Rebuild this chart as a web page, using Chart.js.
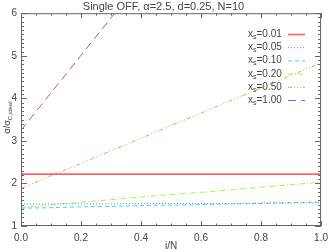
<!DOCTYPE html>
<html>
<head>
<meta charset="utf-8">
<script src="https://cdn.jsdelivr.net/npm/chart.js"></script>
<style>
  html, body { margin: 0; padding: 0; background: #fff; }
  #wrap { width: 334px; height: 252px; }
</style>
</head>
<body>
<div id="wrap"><canvas id="chart" width="334" height="252"></canvas></div>
<script>
// i/N positions, N=10
const iOverN = [0.0, 0.1, 0.2, 0.3, 0.4, 0.5, 0.6, 0.7, 0.8, 0.9, 1.0];

// sigma / sigma_C,ideal for each x_s
const xs001 = [2.22, 2.22, 2.22, 2.22, 2.22, 2.22, 2.22, 2.22, 2.22, 2.22, 2.22];
const xs005 = [1.52, 1.52, 1.52, 1.52, 1.53, 1.53, 1.53, 1.53, 1.54, 1.54, 1.54];
const xs010 = [1.42, 1.43, 1.45, 1.46, 1.48, 1.49, 1.50, 1.52, 1.53, 1.55, 1.56];
const xs020 = [1.44, 1.50, 1.56, 1.62, 1.68, 1.74, 1.79, 1.85, 1.91, 1.97, 2.03];
const xs050 = [1.88, 2.18, 2.47, 2.77, 3.06, 3.36, 3.65, 3.95, 4.24, 4.54, 4.83];
const xs100 = [3.25, 4.13, 5.01, 5.89, 6.77, 7.65, 8.53, 9.41, 10.29, 11.17, 12.05];

const seriesNames = ['0.01', '0.05', '0.10', '0.20', '0.50', '1.00'];
const xTickValues = [0.0, 0.2, 0.4, 0.6, 0.8, 1.0];
const yTickValues = [1, 2, 3, 4, 5, 6];

const colors = ['#ff6464', '#7f7fff', '#38dcd6', '#a8f040', '#ee9860', '#9a5cc8'];
const dashes = [[], [1, 2], [4, 3], [5, 2, 1, 2], [4, 2, 1, 2, 1, 2, 1, 2], [8, 5]];
const widths = [1.6, 1, 1, 1, 1, 1];

const axisColor = '#666';
const textColor = '#444';
const fontFam = '"Liberation Sans", Arial, sans-serif';

function pts(ys) {
    return iOverN.map((x, i) => ({ x: x, y: ys[i] }));
}

const allSeries = [xs001, xs005, xs010, xs020, xs050, xs100];
const datasets = allSeries.map((ys, k) => ({
    label: 'x_s=' + seriesNames[k],
    data: pts(ys),
    borderColor: colors[k],
    borderDash: dashes[k],
    borderWidth: widths[k],
    pointRadius: 0,
    fill: false,
    tension: 0
}));

// inward ticks on all four sides, plus frame, legend and y title
const framePlugin = {
    id: 'frame',
    afterDraw(chart) {
        const ctx = chart.ctx;
        const a = chart.chartArea;
        const xs = chart.scales.x, ys = chart.scales.y;
        ctx.save();
        ctx.strokeStyle = axisColor;
        ctx.lineWidth = 1;
        ctx.strokeRect(a.left + 0.5, a.top + 0.5, a.right - a.left - 1, a.bottom - a.top - 1);

        ctx.beginPath();
        for (let v = 0; v <= 1.0001; v += 0.05) {
            const px = Math.round(xs.getPixelForValue(v)) + 0.5;
            const major = Math.abs(v * 5 - Math.round(v * 5)) < 1e-6;
            const len = major ? 5 : 2.5;
            ctx.moveTo(px, a.bottom); ctx.lineTo(px, a.bottom - len);
            ctx.moveTo(px, a.top); ctx.lineTo(px, a.top + len);
        }
        for (let v = 1; v <= 6.0001; v += 0.1) {
            const py = Math.round(ys.getPixelForValue(v)) + 0.5;
            const major = Math.abs(v - Math.round(v)) < 1e-6;
            const len = major ? 6 : 3;
            ctx.moveTo(a.left, py); ctx.lineTo(a.left + len, py);
            ctx.moveTo(a.right, py); ctx.lineTo(a.right - len, py);
        }
        ctx.stroke();

        // legend
        const lx = 248, ly0 = 34, step = 13.2;
        chart.data.datasets.forEach((ds, k) => {
            const y = ly0 + k * step;
            ctx.fillStyle = textColor;
            ctx.textBaseline = 'alphabetic';
            ctx.textAlign = 'left';
            ctx.font = '10px ' + fontFam;
            ctx.fillText('x', lx, y + 3);
            let w = ctx.measureText('x').width;
            ctx.font = '7px ' + fontFam;
            ctx.fillText('s', lx + w, y + 5);
            w += ctx.measureText('s').width;
            ctx.font = '10px ' + fontFam;
            ctx.fillText('=' + seriesNames[k], lx + w, y + 3);

            ctx.beginPath();
            ctx.strokeStyle = ds.borderColor;
            ctx.lineWidth = ds.borderWidth;
            ctx.setLineDash(ds.borderDash);
            ctx.moveTo(288, y + 0.5);
            ctx.lineTo(305, y + 0.5);
            ctx.stroke();
            ctx.setLineDash([]);
        });

        // y axis title with subscript
        const cy = (a.top + a.bottom) / 2 - 2;
        ctx.translate(8, cy);
        ctx.rotate(-Math.PI / 2);
        ctx.fillStyle = textColor;
        ctx.font = '9px ' + fontFam;
        const main = '\u03c3/\u03c3';
        const mw = ctx.measureText(main).width;
        ctx.font = '6px ' + fontFam;
        const sub = 'C,ideal';
        const sw = ctx.measureText(sub).width;
        const start = -(mw + sw) / 2;
        ctx.font = '9px ' + fontFam;
        ctx.textBaseline = 'middle';
        ctx.textAlign = 'left';
        ctx.fillText(main, start, 0);
        ctx.font = '6px ' + fontFam;
        ctx.fillText(sub, start + mw, 2.5);
        ctx.restore();
    }
};

new Chart(document.getElementById('chart'), {
    type: 'line',
    data: { datasets: datasets },
    options: {
        responsive: false,
        animation: false,
        layout: { padding: { left: 0, right: 7, top: 0, bottom: 0 } },
        plugins: {
            legend: { display: false },
            tooltip: { enabled: false },
            title: {
                display: true,
                text: 'Single OFF, \u03b1=2.5, d=0.25, N=10',
                color: textColor,
                font: { family: fontFam, size: 11, weight: 'normal' },
                padding: { top: 0, bottom: 0 }
            }
        },
        scales: {
            x: {
                type: 'linear',
                min: 0,
                max: 1,
                grid: { display: false, drawTicks: false, tickLength: 0 },
                border: { display: false },
                afterBuildTicks: s => { s.ticks = xTickValues.map(v => ({ value: v })); },
                afterFit: s => { s.height = 26; },
                ticks: {
                    color: textColor,
                    padding: 6,
                    maxRotation: 0,
                    font: { family: fontFam, size: 10 },
                    callback: v => v.toFixed(1)
                },
                title: {
                    display: true,
                    text: 'i/N',
                    color: textColor,
                    padding: 0,
                    font: { family: fontFam, size: 10 }
                }
            },
            y: {
                type: 'linear',
                min: 1,
                max: 6,
                grid: { display: false, drawTicks: false, tickLength: 0 },
                border: { display: false },
                afterBuildTicks: s => { s.ticks = yTickValues.map(v => ({ value: v })); },
                afterFit: s => { s.width = 21; },
                ticks: {
                    color: textColor,
                    padding: 4,
                    font: { family: fontFam, size: 10 },
                    callback: v => String(v)
                }
            }
        }
    },
    plugins: [framePlugin]
});
</script>
</body>
</html>
